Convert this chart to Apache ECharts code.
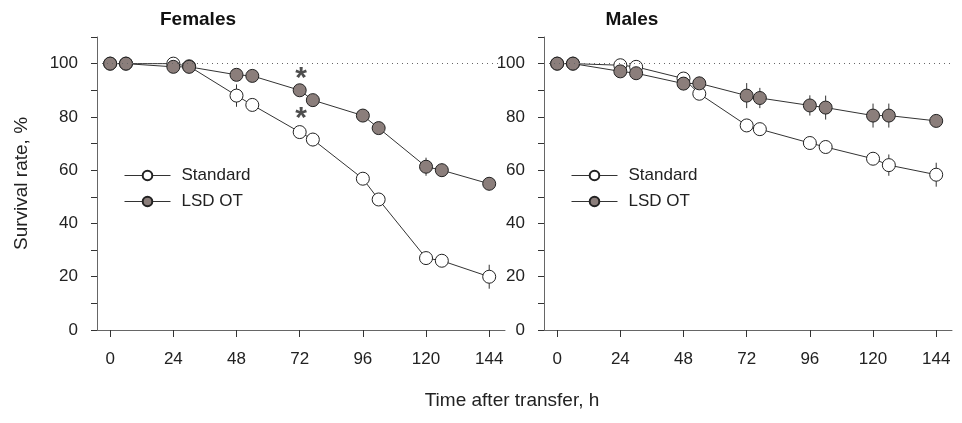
<!DOCTYPE html>
<html>
<head>
<meta charset="utf-8">
<script src="https://cdn.jsdelivr.net/npm/echarts@6.0.0/dist/echarts.min.js"></script>
<style>
  html, body { margin: 0; padding: 0; background: #fff; }
  #chart { width: 962px; height: 423px; }
</style>
</head>
<body>
<div id="chart"></div>
<script>
// sampling times, h
const hours = [0, 6, 24, 30, 48, 54, 72, 77, 96, 102, 120, 126, 144];
const xTickValues = [0, 24, 48, 72, 96, 120, 144];
const yTickValues = [0, 10, 20, 30, 40, 50, 60, 70, 80, 90, 100, 110];
const yLabelValues = [0, 20, 40, 60, 80, 100];

// females
const femStd = [100, 100, 100, 99, 88, 84.5, 74.3, 71.5, 56.8, 49, 27, 26, 20];
const femStdErr = [0, 0, 0, 0, 4.2, 2, 0, 2.5, 0, 0, 0, 0, 4.5];
const femLsd = [100, 100, 98.8, 98.8, 95.8, 95.4, 90, 86.3, 80.5, 75.8, 61.3, 60, 54.9];
const femLsdErr = [0, 0, 0, 0, 1, 2.3, 0, 0, 0, 0, 3.4, 2.5, 2.5];
// males
const maleStd = [100, 100, 99.4, 98.8, 94.4, 88.7, 76.8, 75.4, 70.2, 68.7, 64.3, 61.9, 58.3];
const maleStdErr = [0, 0, 0, 0, 2, 1.5, 0, 0, 0, 0, 0, 4, 4.5];
const maleLsd = [100, 100, 97.1, 96.4, 92.5, 92.6, 88, 87.1, 84.3, 83.5, 80.5, 80.5, 78.5];
const maleLsdErr = [0, 0, 0, 0, 2.5, 2.5, 4.7, 3.8, 3.8, 4.5, 4.5, 4.5, 1.5];

// significance marks (females, 72 h)
const starPoints = [[72.5, 96.5], [72.5, 81.5]];

const FONT = 'Liberation Sans, Arial, sans-serif';
const AXIS_COLOR = '#666';
const LINE_COLOR = '#333';
const FILL_GREY = '#8b7e7b';

const myChart = echarts.init(document.getElementById('chart'));

const pairs = (ys) => hours.map((h, i) => [h, ys[i]]);
const errRows = (ys, es) => hours.map((h, i) => [h, ys[i], es[i]]);

const makeXAxis = (idx) => ({
  gridIndex: idx,
  type: 'value',
  min: -5,
  max: 150,
  splitLine: { show: false },
  axisLine: { onZero: false, lineStyle: { color: AXIS_COLOR, width: 1 } },
  axisTick: { customValues: xTickValues, length: 7, lineStyle: { color: LINE_COLOR } },
  axisLabel: { customValues: xTickValues, margin: 21, fontSize: 17, color: '#222', fontFamily: FONT }
});

const makeYAxis = (idx) => ({
  gridIndex: idx,
  type: 'value',
  min: 0,
  max: 110,
  splitLine: { show: false },
  axisLine: { show: true, onZero: false, lineStyle: { color: AXIS_COLOR, width: 1 } },
  axisTick: { customValues: yTickValues, length: 6, lineStyle: { color: LINE_COLOR } },
  axisLabel: { customValues: yLabelValues, margin: 19, fontSize: 17, color: '#222', fontFamily: FONT },
  name: idx === 0 ? 'Survival rate, %' : '',
  nameLocation: 'middle',
  nameRotate: 90,
  nameGap: 66,
  nameTextStyle: { fontSize: 19, color: '#222', fontFamily: FONT }
});

const lineSeries = (name, idx, ys, fill, z) => ({
  name: name,
  type: 'line',
  xAxisIndex: idx,
  yAxisIndex: idx,
  data: pairs(ys),
  symbol: 'circle',
  symbolSize: 13,
  showSymbol: true,
  z: z,
  lineStyle: { color: LINE_COLOR, width: 1 },
  itemStyle: { color: fill, borderColor: '#222', borderWidth: 1 },
  emphasis: { disabled: true }
});

const errSeries = (idx, ys, es, z) => ({
  type: 'custom',
  xAxisIndex: idx,
  yAxisIndex: idx,
  z: z,
  silent: true,
  data: errRows(ys, es),
  renderItem: function (params, api) {
    const e = api.value(2);
    if (!e) return null;
    const top = api.coord([api.value(0), api.value(1) + e]);
    const bot = api.coord([api.value(0), api.value(1) - e]);
    return {
      type: 'line',
      shape: { x1: top[0], y1: top[1], x2: bot[0], y2: bot[1] },
      style: { stroke: LINE_COLOR, lineWidth: 1 }
    };
  }
});

const refLine = (idx) => ({
  type: 'line',
  xAxisIndex: idx,
  yAxisIndex: idx,
  data: [],
  z: 1,
  silent: true,
  markLine: {
    symbol: 'none',
    silent: true,
    label: { show: false },
    lineStyle: { color: '#666', width: 1, type: [1, 4] },
    data: [{ yAxis: 100 }]
  }
});

const legendFor = (idx, left) => ({
  show: true,
  orient: 'vertical',
  left: left,
  top: 162,
  itemWidth: 46,
  itemHeight: 12,
  itemGap: 9,
  selectedMode: false,
  data: ['Standard', 'LSD OT'],
  lineStyle: { width: 1 },
  textStyle: { fontSize: 17, color: '#222', fontFamily: FONT, padding: [0, 0, 0, 6] }
});

const option = {
  animation: false,
  backgroundColor: '#fff',
  title: [
    { text: 'Females', left: 193, top: 5, textAlign: 'center',
      textStyle: { fontSize: 19, fontWeight: 'bold', color: '#111', fontFamily: FONT } },
    { text: 'Males', left: 627, top: 5, textAlign: 'center',
      textStyle: { fontSize: 19, fontWeight: 'bold', color: '#111', fontFamily: FONT } }
  ],
  legend: [legendFor(0, 119), legendFor(1, 566)],
  grid: [
    { left: 97, top: 37, width: 408, height: 293 },
    { left: 544, top: 37, width: 408, height: 293 }
  ],
  xAxis: [makeXAxis(0), makeXAxis(1)],
  yAxis: [makeYAxis(0), makeYAxis(1)],
  graphic: [
    { type: 'text', x: 512, y: 391,
      style: { text: 'Time after transfer, h', fontSize: 19, fill: '#222', fontFamily: FONT, align: 'center', verticalAlign: 'top' } }
  ],
  series: [
    refLine(0),
    refLine(1),
    errSeries(0, femStd, femStdErr, 2),
    errSeries(0, femLsd, femLsdErr, 2),
    errSeries(1, maleStd, maleStdErr, 2),
    errSeries(1, maleLsd, maleLsdErr, 2),
    lineSeries('Standard', 0, femStd, '#fff', 3),
    lineSeries('LSD OT', 0, femLsd, FILL_GREY, 4),
    lineSeries('Standard', 1, maleStd, '#fff', 3),
    lineSeries('LSD OT', 1, maleLsd, FILL_GREY, 4),
    {
      type: 'scatter',
      xAxisIndex: 0,
      yAxisIndex: 0,
      data: starPoints,
      symbolSize: 0,
      z: 6,
      silent: true,
      label: {
        show: true,
        position: 'inside',
        formatter: '*',
        fontSize: 30,
        fontWeight: 'bold',
        color: '#222',
        fontFamily: FONT,
        offset: [0, 6]
      }
    }
  ]
};

option && myChart.setOption(option);
</script>
</body>
</html>
